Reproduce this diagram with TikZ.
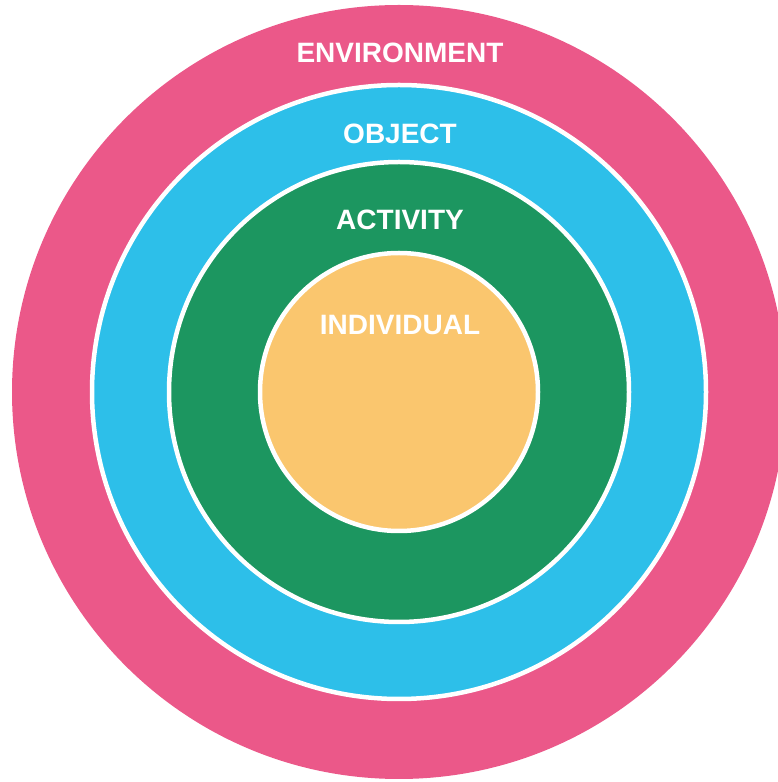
\documentclass[tikz,border=0pt]{standalone}
\usepackage{fontspec}
\setmainfont{Liberation Sans}
\usepackage{tikz}
\usetikzlibrary{calc,positioning}
\definecolor{envpink}{RGB}{235,88,137}
\definecolor{objblue}{RGB}{45,191,233}
\definecolor{actgreen}{RGB}{28,150,96}
\definecolor{indorange}{RGB}{250,198,110}
\tikzset{
ring/.style={draw=white, line width=4.5pt},
lbl/.style={text=white, font=\fontsize{28}{31}\selectfont\bfseries, inner sep=0pt}
}

\begin{document}
\begin{tikzpicture}[x=1pt,y=1pt]
\useasboundingbox (0,0) rectangle (777,782);
\coordinate (c) at (399,390);
\fill[envpink] (c) circle[radius=387]; %env
\draw[ring, fill=objblue] (c) circle[radius=307]; %obj
\draw[ring, fill=actgreen] (c) circle[radius=230]; %act
\draw[ring, fill=indorange] (c) circle[radius=139]; %ind
\node[lbl] (env) at (400,729) {ENVIRONMENT};
\node[lbl] (obj) at (400,648) {OBJECT};
\node[lbl] (act) at (400,562) {ACTIVITY};
\node[lbl] (ind) at (400,457) {INDIVIDUAL};
\end{tikzpicture}
\end{document}
